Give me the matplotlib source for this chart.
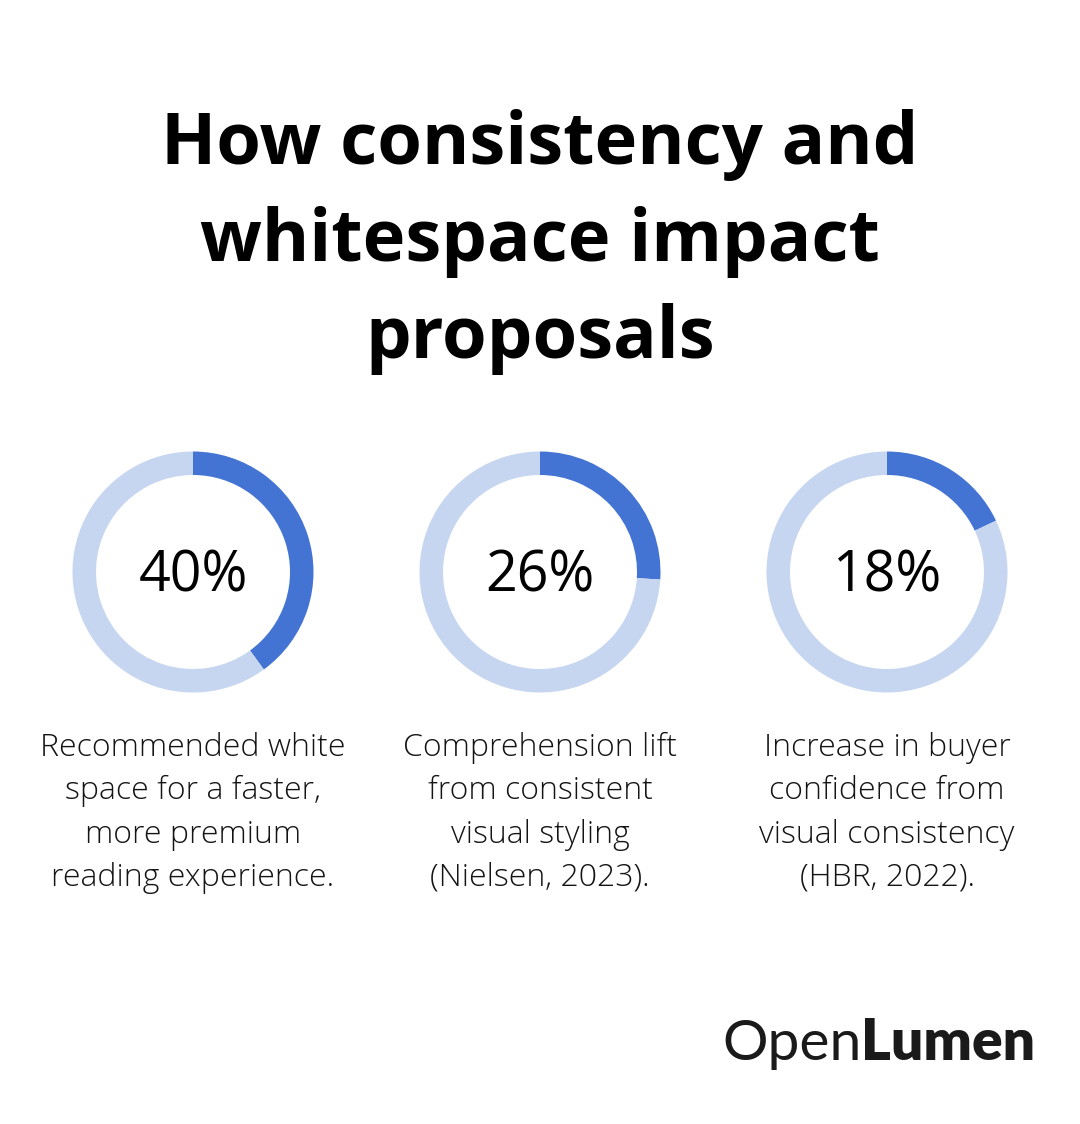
import matplotlib.pyplot as plt

# data
values = [40, 26, 18]
labels = ['40%', '26%', '18%']
descriptions = [
    'Recommended white\nspace for a faster,\nmore premium\nreading experience.',
    'Comprehension lift\nfrom consistent\nvisual styling\n(Nielsen, 2023).',
    'Increase in buyer\nconfidence from\nvisual consistency\n(HBR, 2022).',
]
title = 'How consistency and\nwhitespace impact\nproposals'

W, H = 1080, 1124
fig = plt.figure(figsize=(W / 100, H / 100), dpi=100)
ax = fig.add_axes([0, 0, 1, 1])
ax.set_xlim(0, W)
ax.set_ylim(0, H)
ax.set_aspect('equal')
ax.axis('off')

dark = '#4474D3'
light = '#C6D6F1'
centers_x = [193, 540, 887]
cy = H - 572

fig.text(0.5, 1 - 242 / H, title, ha='center', va='center', fontsize=52,
         fontweight='bold', family='Open Sans', linespacing=1.45, color='black')

for i, v in enumerate(values):
    ax.pie([v, 100 - v], center=(centers_x[i], cy), radius=120.5,
           colors=[dark, light], startangle=90, counterclock=False,
           wedgeprops=dict(width=23.5, linewidth=0), frame=True)
    ax.text(centers_x[i], cy - 5, labels[i], ha='center', va='center',
            fontsize=40, family='Open Sans', fontweight='medium', color='black')
    ax.text(centers_x[i], H - 813, descriptions[i], ha='center', va='center',
            fontsize=23, family='Open Sans', fontweight='light',
            color='#141414', linespacing=1.47)

ax.set_xlim(0, W)
ax.set_ylim(0, H)
ax.axis('off')

t1 = ax.text(722, H - 1060, 'Open', ha='left', va='baseline', fontsize=41,
             family='Lato', color='#1a1a1a')
fig.canvas.draw()
bb = t1.get_window_extent()
x2 = ax.transData.inverted().transform((bb.x1, bb.y0))[0]
ax.text(x2, H - 1060, 'Lumen', ha='left', va='baseline', fontsize=41,
        family='Lato', fontweight='heavy', color='#1a1a1a')

fig.savefig('out.png', dpi=100, facecolor='white')
